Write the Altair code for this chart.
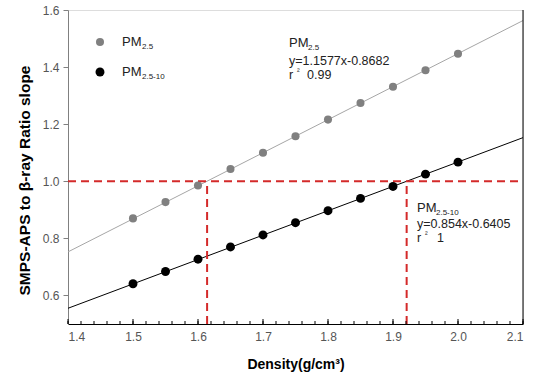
import altair as alt
import pandas as pd

density = [1.5, 1.55, 1.6, 1.65, 1.7, 1.75, 1.8, 1.85, 1.9, 1.95, 2.0]
pm25 = [0.87, 0.927, 0.985, 1.043, 1.100, 1.158, 1.216, 1.274, 1.331, 1.389, 1.447]
pm2510 = [0.641, 0.684, 0.727, 0.770, 0.812, 0.855, 0.897, 0.940, 0.982, 1.025, 1.067]

fit_x = [1.4, 2.1]
fit_pm25 = [0.7526, 1.5630]
fit_pm2510 = [0.5551, 1.1529]

ref_y = 1.0
cross_x = [1.614, 1.921]

x_major = [1.4, 1.5, 1.6, 1.7, 1.8, 1.9, 2.0, 2.1]
x_minor = [round(1.4 + 0.02 * i, 2) for i in range(36)]
y_ticks = [0.6, 0.8, 1.0, 1.2, 1.4, 1.6]

FONT = "Liberation Sans"
xs = alt.Scale(domain=[1.4, 2.1], nice=False, zero=False)
ys = alt.Scale(domain=[0.5, 1.6], nice=False, zero=False)

pts = pd.DataFrame({"x": density, "pm25": pm25, "pm2510": pm2510})
fits = pd.DataFrame({"x": fit_x, "pm25": fit_pm25, "pm2510": fit_pm2510})

xaxis = alt.Axis(values=x_major, format=".1f", ticks=False, grid=False,
                 domainColor="#000000", labelColor="#555555", labelFont=FONT,
                 labelFontSize=12, labelPadding=7, title="Density(g/cm³)",
                 titleFont=FONT, titleFontSize=14, titleFontWeight="bold",
                 titleColor="#000000", titlePadding=15)
yaxis = alt.Axis(values=y_ticks, format=".1f", grid=False, tickSize=5,
                 tickColor="#808080", domainColor="#808080", labelColor="#555555",
                 labelFont=FONT, labelFontSize=12, labelPadding=4,
                 title="SMPS-APS to β-ray Ratio slope", titleFont=FONT,
                 titleFontSize=15.5, titleFontWeight="bold", titleColor="#000000",
                 titlePadding=10, titleY=170)

base_line1 = alt.Chart(fits).mark_line(color="#a6a6a6", strokeWidth=1).encode(
    x=alt.X("x:Q", scale=xs, axis=xaxis), y=alt.Y("pm25:Q", scale=ys, axis=yaxis))
base_line2 = alt.Chart(fits).mark_line(color="#000000", strokeWidth=1).encode(
    x=alt.X("x:Q", scale=xs), y=alt.Y("pm2510:Q", scale=ys))

pts1 = alt.Chart(pts).mark_circle(color="#808080", opacity=1, size=65).encode(
    x=alt.X("x:Q", scale=xs), y=alt.Y("pm25:Q", scale=ys))
pts2 = alt.Chart(pts).mark_circle(color="#000000", opacity=1, size=80).encode(
    x=alt.X("x:Q", scale=xs), y=alt.Y("pm2510:Q", scale=ys))

hline = alt.Chart(pd.DataFrame({"y": [ref_y]})).mark_rule(
    color="#d42a2a", strokeWidth=2, strokeDash=[8, 5]).encode(
    y=alt.Y("y:Q", scale=ys), x=alt.datum(1.4, scale=xs), x2=alt.datum(2.1))
vlines = alt.Chart(pd.DataFrame({"x": cross_x})).mark_rule(
    color="#d42a2a", strokeWidth=2, strokeDash=[8, 5]).encode(
    x=alt.X("x:Q", scale=xs), y=alt.datum(0.5, scale=ys), y2=alt.datum(ref_y))

minor = alt.Chart(pd.DataFrame({"x": x_minor})).mark_rule(color="#000000", strokeWidth=1).encode(
    x=alt.X("x:Q", scale=xs), y=alt.datum(0.5, scale=ys), y2=alt.datum(0.5105))
major = alt.Chart(pd.DataFrame({"x": x_major})).mark_rule(color="#000000", strokeWidth=1).encode(
    x=alt.X("x:Q", scale=xs), y=alt.datum(0.5, scale=ys), y2=alt.datum(0.5175))

right_edge = alt.Chart(pd.DataFrame({"x": [2.1]})).mark_rule(color="#000000", strokeWidth=1).encode(
    x=alt.X("x:Q", scale=xs), y=alt.datum(0.5, scale=ys), y2=alt.datum(1.6))

# legend symbols
leg = pd.DataFrame({"k": ["PM2.5", "PM2.5-10"]})
leg_pts1 = alt.Chart(leg.iloc[[0]]).mark_circle(opacity=1, size=65, color="#808080").encode(
    x=alt.value(32), y=alt.value(32))
leg_pts2 = alt.Chart(leg.iloc[[1]]).mark_circle(opacity=1, size=80, color="#000000").encode(
    x=alt.value(32), y=alt.value(62))

def txt(text, x, y, size=13, color="#222222", align="left"):
    return alt.Chart(pd.DataFrame({"t": [text]})).mark_text(
        font=FONT, fontSize=size, color=color, align=align, baseline="middle").encode(
        text="t:N", x=alt.value(x), y=alt.value(y))

texts = [
    txt("PM", 54, 32), txt("2.5", 74, 37, size=8),
    txt("PM", 54, 62), txt("2.5-10", 74, 67, size=8),
    txt("PM", 221, 33), txt("2.5", 240, 38, size=8),
    txt("y=1.1577x-0.8682", 221, 51, size=12.5),
    txt("r", 221, 65, size=12.5), txt("²", 229, 62, size=8), txt("0.99", 239, 65, size=12.5),
    txt("PM", 349, 198), txt("2.5-10", 368, 203, size=8),
    txt("y=0.854x-0.6405", 349, 214, size=12.5),
    txt("r", 349, 228, size=12.5), txt("²", 357, 225, size=8), txt("1", 369, 228, size=12.5),
]

chart = alt.layer(base_line1, base_line2, hline, vlines, pts1, pts2, minor, major,
                  right_edge, leg_pts1, leg_pts2, *texts).properties(
    width=455, height=314,
    autosize=alt.AutoSizeParams(type="none"),
    padding={"left": 68, "top": 10, "right": 11, "bottom": 52},
).configure_view(stroke="#808080", strokeWidth=1).configure(background="#ffffff")

chart.save("out.html", embed_options={"renderer": "svg", "actions": False})
